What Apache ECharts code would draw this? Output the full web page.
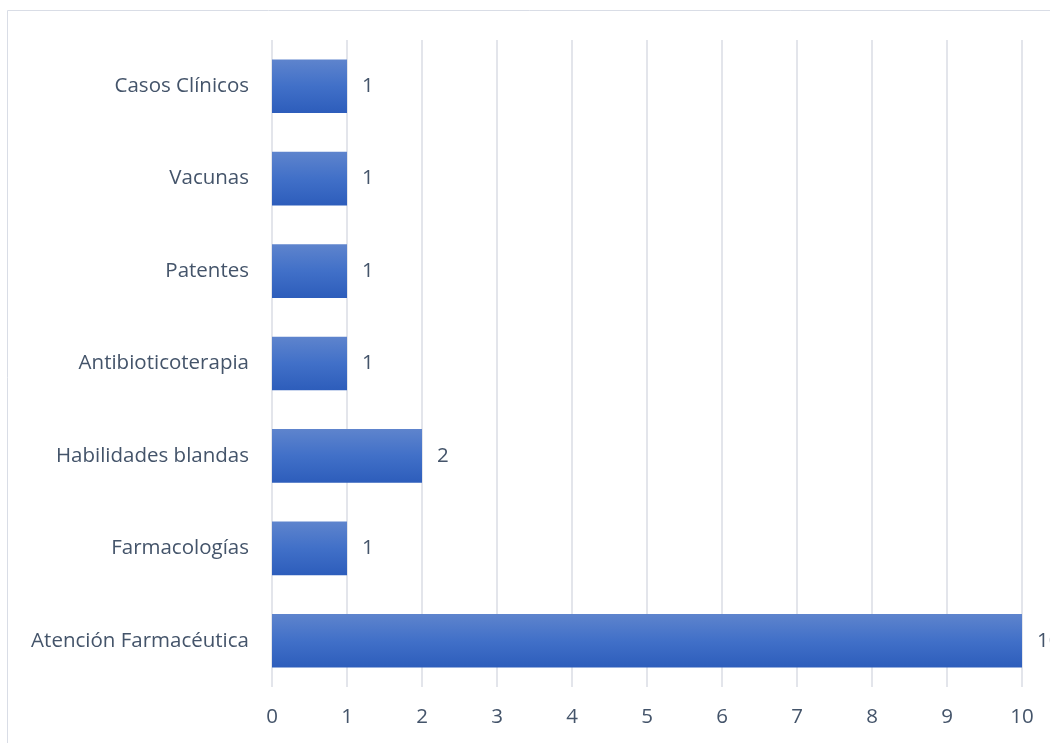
<!DOCTYPE html>
<html><head><meta charset="utf-8">
<script src="https://cdn.jsdelivr.net/npm/echarts@6/dist/echarts.min.js"></script>
<style>html,body{margin:0;padding:0;background:#fff}#c{width:1050px;height:743px}</style>
</head><body><div id="c"></div>
<script>
const categories = ['Atención Farmacéutica','Farmacologías','Habilidades blandas','Antibioticoterapia','Patentes','Vacunas','Casos Clínicos'];
const values = [10,1,2,1,1,1,1];
const tickLabels = ['0','1','2','3','4','5','6','7','8','9','10'];
const font = '"Open Sans", sans-serif';
const txt = '#44546a';
const chart = echarts.init(document.getElementById('c'));
chart.setOption({
  animation:false,
  graphic:[{type:'rect',shape:{x:7.5,y:10.5,width:1100,height:800},style:{fill:'none',stroke:'#d9dde6',lineWidth:1},silent:true}],
  grid:{left:272,right:28,top:40,bottom:56,containLabel:false},
  xAxis:{type:'value',min:0,max:10,interval:1,
    axisLine:{show:false},axisTick:{show:false},
    axisLabel:{color:txt,fontSize:20.5,fontFamily:font,margin:20,formatter:(v)=>tickLabels[v]},
    splitLine:{lineStyle:{color:'#dadde4',width:1.5}}},
  yAxis:{type:'category',data:categories,
    axisLine:{show:false},axisTick:{show:false},
    axisLabel:{color:txt,fontSize:20.5,fontFamily:font,margin:23}},
  series:[{type:'bar',data:values,barCategoryGap:'42%',
    itemStyle:{color:new echarts.graphic.LinearGradient(0,0,0,1,[{offset:0,color:'#5e84cd'},{offset:0.5,color:'#4170c8'},{offset:1,color:'#2d5dbb'}])},
    label:{show:true,position:'right',distance:15,color:txt,fontSize:20.5,fontFamily:font}}]
});
</script></body></html>
